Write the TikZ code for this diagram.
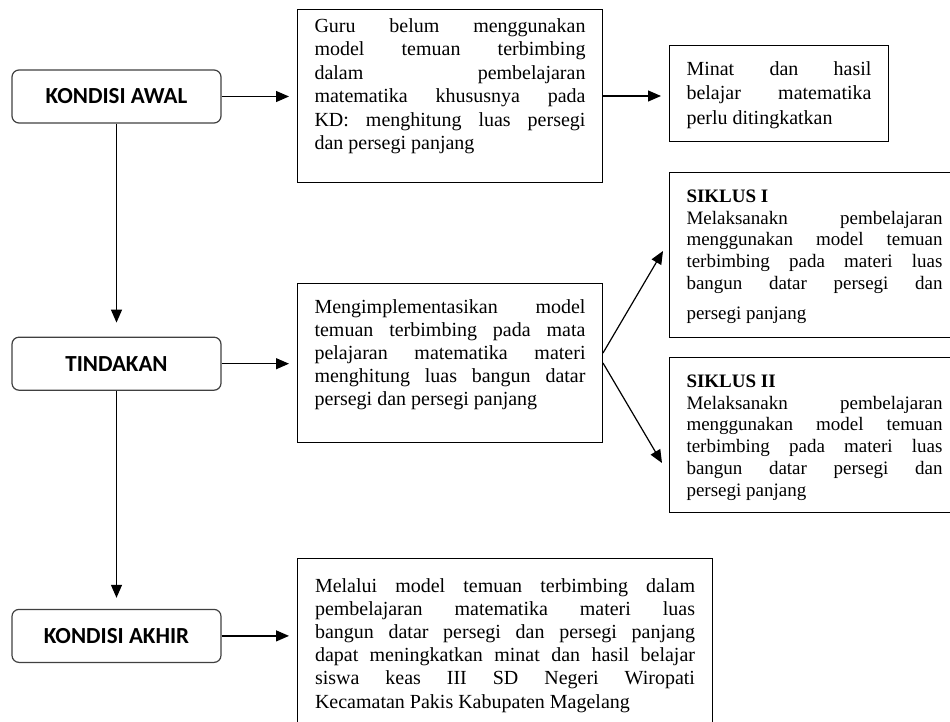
\documentclass[tikz,border=0pt]{standalone}
\usepackage{fontspec}
\setmainfont{Liberation Serif}
\newfontfamily\carlito{Carlito}
\usetikzlibrary{arrows.meta, positioning}
\hyphenpenalty=10000
\tolerance=10000
\hbadness=10000

\begin{document}
\begin{tikzpicture}[x=1pt, y=-1pt,
    kondisi/.style={draw=black!75, line width=1.2pt, rounded corners=7pt,
          minimum width=209pt, minimum height=53pt,
          font=\carlito\bfseries\fontsize{23}{27}\selectfont},
    kotak/.style={draw, line width=1pt, anchor=north west, align=justify,
          inner xsep=16pt, inner ysep=9pt, text height=21pt,
          font=\fontsize{20}{23.5}\selectfont},
    siklus/.style={kotak, inner xsep=17pt, text width=256pt,
          font=\fontsize{19}{21.7}\selectfont},
    panah/.style={-{Triangle[length=13pt, width=11pt]}, line width=1.2pt,
          shorten >=8pt}]
    \useasboundingbox (0,0) rectangle (950,722);
    \clip (0,0) rectangle (950,722);

    \node[kondisi] (awal) at (116.5,96.5) {KONDISI AWAL};
    \node[kondisi, below=213pt of awal] (tindakan) {TINDAKAN};
    \node[kondisi, below=218pt of tindakan] (akhir) {KONDISI AKHIR};

    \node[kotak, text width=271pt, minimum width=305pt,
          text height=14pt, text depth=141pt] (guru) at (297,9)
          {Guru belum menggunakan\linebreak
           model temuan terbimbing\linebreak
           dalam pembelajaran\linebreak
           matematika khususnya pada\linebreak
           KD: menghitung luas persegi\linebreak
           dan persegi panjang};
    \node[kotak, text width=185pt, minimum width=219pt,
          text depth=57pt, font=\fontsize{20}{24.5}\selectfont] (minat) at (669,45)
          {Minat dan hasil\linebreak
           belajar matematika\linebreak
           perlu ditingkatkan};
    \node[kotak, text width=271pt, minimum width=305pt,
          text depth=120pt, font=\fontsize{20}{22.9}\selectfont] (implementasi) at (297,283)
          {Mengimplementasikan model\linebreak
           temuan terbimbing pada mata\linebreak
           pelajaran matematika materi\linebreak
           menghitung luas bangun datar\linebreak
           persegi dan persegi panjang};
    \node[siklus, text depth=126pt] (siklus1) at (669,172)
          {\textbf{SIKLUS I}\par
           Melaksanakn pembelajaran\linebreak
           menggunakan model temuan\linebreak
           terbimbing pada materi luas\linebreak
           bangun datar persegi dan{\parfillskip=0pt\par}\vspace{9pt}
           persegi panjang};
    \node[siklus, text depth=116pt, below=19pt of siklus1] (siklus2)
          {\textbf{SIKLUS II}\par
           Melaksanakn pembelajaran\linebreak
           menggunakan model temuan\linebreak
           terbimbing pada materi luas\linebreak
           bangun datar persegi dan\linebreak
           persegi panjang};
    \node[kotak, text width=380pt, minimum width=415pt,
          text height=25pt, text depth=129pt,
          font=\fontsize{20}{23.1}\selectfont] (hasil) at (297,558)
          {Melalui model temuan terbimbing dalam\linebreak
           pembelajaran matematika materi luas\linebreak
           bangun datar persegi dan persegi panjang\linebreak
           dapat meningkatkan minat dan hasil belajar\linebreak
           siswa keas III SD Negeri Wiropati\linebreak
           Kecamatan Pakis Kabupaten Magelang};

    \draw[panah] (awal.east) -- (awal.east -| guru.west);
    \draw[panah] (guru.east) -- (guru.east -| minat.west);
    \draw[panah, shorten >=14pt] (awal) -- (tindakan);
    \draw[panah] (tindakan.east) -- (tindakan.east -| implementasi.west);
    \draw[panah, shorten >=11pt] (tindakan) -- (akhir);
    \draw[panah] (akhir.east) -- (akhir.east -| hasil.west);
    \draw[panah, shorten >=0pt] ([yshift=10pt]implementasi.east)
          -- ([shift={(-6,-4)}]siklus1.west);
    \draw[panah, shorten >=0pt] (implementasi.east)
          -- ([shift={(-7,106)}]siklus2.north west);
\end{tikzpicture}
\end{document}
